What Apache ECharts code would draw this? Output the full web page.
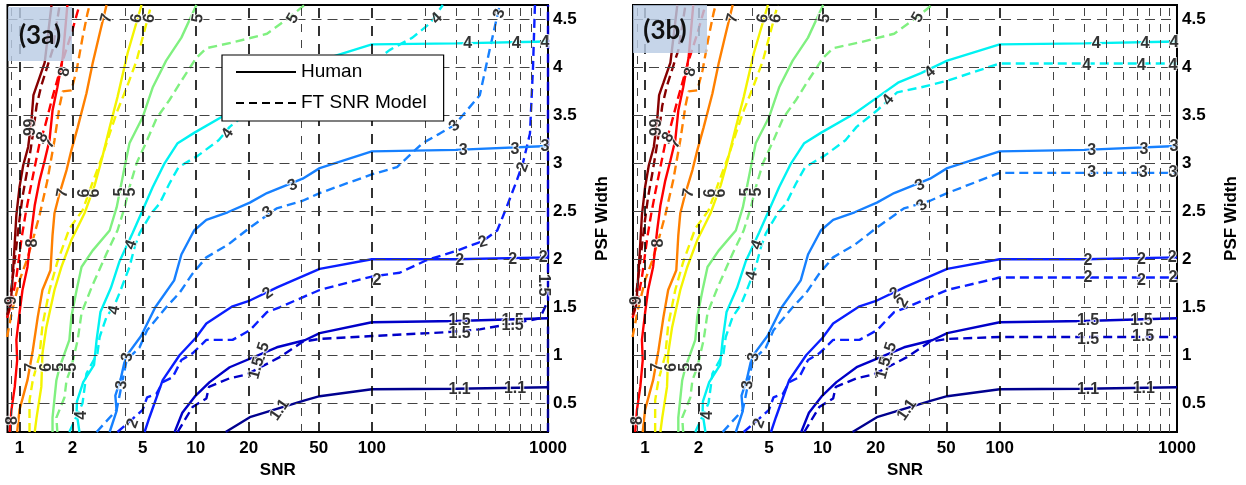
<!DOCTYPE html>
<html><head><meta charset="utf-8">
<script src="https://cdn.jsdelivr.net/npm/echarts@6/dist/echarts.min.js"></script>
<style>html,body{margin:0;padding:0;background:#fff}#c{width:1246px;height:485px}</style>
</head><body><div id="c"></div><script>
// ---------- tick labels / grid positions ----------
const snrTicks = [1, 2, 5, 10, 20, 50, 100, 1000];
const psfTicks = [0.5, 1, 1.5, 2, 2.5, 3, 3.5, 4, 4.5];
const snrMajorGrid = [1, 2, 5, 10, 20, 50, 100];
const snrMinorGrid = [0.9, 4, 40, 200, 300, 400, 500, 600, 700, 800, 900];
const levels = ['1.1', '1.5', '2', '3', '4', '5', '6', '7', '8', '9'];

// ---------- Human contours (same in both panels): [SNR, PSF width] ----------
const human11 = [[14.8,0.2],[20.3,0.354],[41.6,0.53],[50.6,0.573],[100,0.646],[300,0.65],[1000,0.667]];
const human15 = [[7.6,0.2],[8.4,0.40],[10,0.58],[12,0.72],[15.6,0.875],[28.9,1.083],[41.6,1.156],[50.6,1.23],[100,1.344],[300,1.357],[1000,1.385]];
const human2 = [[5.13,0.2],[5.47,0.354],[6.5,0.74],[8.1,1.0],[10,1.18],[11.5,1.33],[16.2,1.51],[20.3,1.57],[29.2,1.71],[50.6,1.90],[100,2.0],[300,2.0],[1000,2.02]];
const human3 = [[3.25,0.2],[3.56,0.42],[3.5,0.58],[3.75,0.75],[4.0,0.98],[4.9,1.2],[5.9,1.5],[7.55,1.78],[8.3,2.05],[9.8,2.3],[11.5,2.41],[15.2,2.49],[20.3,2.59],[25.4,2.69],[40.5,2.84],[50.6,2.95],[100,3.125],[300,3.14],[1000,3.18]];
const human4 = [[2.19,0.2],[2.11,0.4],[2.12,0.52],[2.3,0.72],[2.65,0.9],[2.74,1.16],[2.88,1.45],[3.3,1.7],[3.7,1.98],[4.4,2.28],[5.0,2.51],[5.7,2.75],[6.66,3.0],[7.9,3.21],[9.85,3.32],[15.2,3.52],[20.5,3.69],[26.7,3.84],[36,3.94],[50.6,4.07],[100,4.24],[300,4.25],[1000,4.27]];
const human5 = [[1.54,0.2],[1.54,0.35],[1.62,0.74],[1.69,0.875],[1.92,1.16],[1.97,1.40],[2.11,1.68],[2.25,1.92],[2.60,2.09],[3.25,2.30],[3.56,2.54],[3.95,2.96],[4.21,3.21],[5.0,3.48],[5.7,3.79],[6.8,4.07],[8.3,4.31],[10.1,4.65]];
const human6 = [[1.22,0.2],[1.25,0.35],[1.33,0.67],[1.35,1.02],[1.42,1.29],[1.58,1.68],[1.73,1.92],[1.97,2.20],[2.34,2.48],[2.67,2.77],[2.92,3.03],[3.25,3.375],[3.60,3.69],[4.11,4.15],[4.93,4.65]];
const human7 = [[0.97,0.2],[1.0,0.43],[1.11,0.74],[1.19,1.05],[1.27,1.40],[1.35,1.68],[1.50,1.885],[1.54,2.25],[1.58,2.48],[1.69,2.69],[1.85,2.93],[1.97,3.135],[2.14,3.375],[2.40,3.73],[2.60,4.04],[2.85,4.35],[3.12,4.65]];
const human8 = [[0.88,0.2],[0.90,0.43],[0.94,0.67],[0.97,0.95],[0.96,1.16],[1.0,1.44],[1.04,1.68],[1.11,1.92],[1.17,2.30],[1.22,2.56],[1.30,2.82],[1.39,3.03],[1.48,3.24],[1.54,3.55],[1.64,3.79],[1.76,4.10],[1.87,4.65]];
const human9 = [[0.85,1.42],[0.89,1.52],[0.91,1.75],[0.94,2.17],[0.96,2.46],[1.0,2.75],[1.05,2.98],[1.12,3.17],[1.17,3.45],[1.20,3.71],[1.27,3.84],[1.39,4.05],[1.52,4.65]];

// ---------- FT SNR Model contours ----------
// shared low-SNR parts
const model15Low = [[7.9,0.2],[9.6,0.46],[11.5,0.55],[11.9,0.67],[15.6,0.76],[19.5,0.80],[30,0.98],[40.5,1.14],[50.6,1.17]];
const model2Low = [[3.6,0.2],[4.4,0.34],[5.0,0.43],[5.3,0.56],[6.0,0.60],[6.5,0.72],[7.4,0.77],[8.3,0.95],[9.6,1.02],[11.5,1.16],[16.2,1.16],[20.3,1.26],[25.4,1.45],[30,1.5],[50.6,1.68]];
const model3Low = [[2.74,0.2],[3.56,0.43],[3.8,0.69],[4.06,0.95],[4.8,1.08],[5.3,1.26],[6.8,1.5],[8.1,1.65],[9.6,1.85],[11.5,2.02],[15.2,2.15],[20.3,2.33],[28.8,2.53],[40.5,2.61],[50.6,2.69]];
const model4Low = [[1.92,0.2],[2.28,0.5],[2.4,0.81],[2.77,1.02],[2.85,1.19],[3.12,1.40],[3.46,1.52],[3.7,1.65],[4.21,1.92],[4.5,2.125],[4.8,2.27],[5.6,2.48],[6.24,2.58],[7.1,2.79],[8.0,2.96],[10.3,3.08],[13.5,3.24],[15.6,3.38],[20.3,3.55],[26.4,3.74],[35.6,3.79],[50.5,3.86]];
const model5 = [[1.64,0.2],[1.62,0.35],[1.80,0.56],[1.85,0.74],[1.97,0.875],[2.14,1.16],[2.25,1.44],[2.57,1.71],[3.12,2.06],[3.6,2.30],[3.95,2.54],[4.21,2.75],[4.62,3.0],[5.3,3.24],[6.0,3.47],[7.1,3.66],[8.3,3.86],[10.1,4.10],[11.5,4.20],[16.2,4.26],[25.4,4.35],[34,4.52],[41.5,4.65]];
const model6 = [[1.14,0.2],[1.14,0.53],[1.19,0.74],[1.30,1.0],[1.35,1.31],[1.48,1.68],[1.64,1.97],[1.92,2.32],[2.28,2.51],[2.60,2.80],[2.96,3.08],[3.25,3.31],[3.60,3.55],[4.06,3.79],[4.62,4.07],[5.0,4.31],[5.6,4.65]];
const model7 = [[0.85,1.19],[0.91,1.47],[1.0,1.78],[1.10,1.99],[1.19,2.20],[1.30,2.46],[1.44,2.82],[1.58,3.24],[1.69,3.6],[1.76,3.75],[1.97,3.76],[2.11,3.97],[2.28,4.31],[2.43,4.56],[2.5,4.65]];
const model8 = [[0.85,1.39],[0.90,1.54],[0.96,1.81],[1.03,2.23],[1.08,2.46],[1.14,2.69],[1.22,2.96],[1.30,3.21],[1.39,3.375],[1.54,3.69],[1.76,4.07],[1.97,4.35],[2.19,4.65]];
const model9 = [[0.85,1.52],[0.89,1.625],[0.94,1.99],[0.99,2.35],[1.04,2.65],[1.10,2.90],[1.155,3.135],[1.20,3.34],[1.25,3.60],[1.33,3.81],[1.54,4.18],[1.69,4.65]];
// panel (3a) high-SNR parts
const model11A = [[1000,0.2],[1000,1.3]];
const model15A = [[100,1.20],[266,1.24],[410,1.27],[630,1.33],[900,1.385],[1000,1.57],[1000,4.65]];
const model2A = [[100,1.82],[144,1.86],[204,1.99],[304,2.09],[427,2.19],[515,2.30],[570,2.50],[665,2.82],[720,3.0],[790,3.31],[822,4.0],[843,4.65]];
const model3A = [[100,2.885],[139,2.96],[194,3.21],[243,3.31],[295,3.40],[410,3.71],[466,4.18],[532,4.65]];
const model4A = [[100,4.04],[126,4.18],[170,4.31],[214,4.46],[253,4.65]];
// panel (3b) high-SNR parts
const model15B = [[100,1.19],[1000,1.19]];
const model2B = [[100,1.81],[1000,1.81]];
const model3B = [[100,2.90],[1000,2.90]];
const model4B = [[100,4.04],[1000,4.04]];

// ---------- contour labels: [SNR, PSF, text] ----------
const humanLabels = [[30,0.43,'1.1'],[315,0.645,'1.1'],[650,0.656,'1.1'],[23.7,1.02,'1.5'],[315,1.36,'1.5'],[630,1.365,'1.5'],
  [25.7,1.645,'2'],[315,1.99,'2'],[630,2.0,'2'],[940,2.02,'2'],[3.8,0.69,'3'],[35.5,2.77,'3'],[330,3.135,'3'],[650,3.146,'3'],[960,3.17,'3'],
  [2.25,0.375,'4'],[40.5,3.95,'4'],[350,4.25,'4'],[660,4.25,'4'],[960,4.26,'4'],[10.3,4.51,'5'],[3.75,2.70,'5'],[1.69,0.875,'5'],
  [4.62,4.51,'6'],[2.67,2.69,'6'],[1.42,0.875,'6'],[3.12,4.51,'7'],[1.76,2.69,'7'],[1.17,0.875,'7'],[1.8,3.95,'8'],[1.19,2.17,'8'],[0.91,0.32,'8'],
  [1.155,3.33,'9'],[0.9,1.57,'9']];
const humanLabelRot = [55,0,0,72,0,0,35,0,0,0,85,25,0,0,0,90,40,0,0,0,80,90,90,80,90,90,75,80,90,80,90,90,90,90];
const modelLabelsA = [[22.2,0.865,'1.5'],[315,1.23,'1.5'],[630,1.31,'1.5'],[940,1.73,'1.5'],[4.4,0.29,'2'],[107,1.78,'2'],[427,2.18,'2'],[720,2.96,'2'],
  [4.1,0.98,'3'],[25.7,2.49,'3'],[295,3.39,'3'],[530,4.56,'3'],[3.46,1.47,'4'],[4.3,2.15,'4'],[15.2,3.31,'4'],[234,4.51,'4'],
  [4.27,2.70,'5'],[1.97,0.875,'5'],[35.6,4.51,'5'],[5.47,4.51,'6'],[2.34,2.69,'6'],[1.48,3.21,'7'],[1.35,3.27,'8'],[1.155,3.42,'9']];
const modelLabelRotA = [75,0,0,-90,70,0,15,70,80,35,40,75,80,70,55,45,90,90,60,80,90,60,60,90];
const modelLabelsB = [[22.2,0.865,'1.5'],[315,1.16,'1.5'],[644,1.19,'1.5'],[4.4,0.29,'2'],[28.5,1.55,'2'],[315,1.81,'2'],[630,1.78,'2'],[950,1.81,'2'],
  [4.1,0.98,'3'],[36.5,2.56,'3'],[330,2.90,'3'],[644,2.90,'3'],[950,2.90,'3'],[4.0,1.83,'4'],[4.28,2.15,'4'],[23.5,3.66,'4'],[310,4.02,'4'],[630,4.02,'4'],[950,4.02,'4'],
  [4.27,2.70,'5'],[1.97,0.875,'5'],[34.6,4.52,'5'],[5.47,4.51,'6'],[2.34,2.69,'6'],[1.48,3.21,'7'],[1.35,3.27,'8'],[1.155,3.42,'9']];
const modelLabelRotB = [75,0,0,70,60,0,0,0,80,40,0,0,0,80,70,50,0,0,0,90,90,60,80,90,60,60,90];

// ---------- assemble ----------
const humanLines = {'1.1':human11,'1.5':human15,'2':human2,'3':human3,'4':human4,'5':human5,'6':human6,'7':human7,'8':human8,'9':human9};
const modelLinesA = {'1.1':model11A,'1.5':model15Low.concat(model15A),'2':model2Low.concat(model2A),'3':model3Low.concat(model3A),'4':model4Low.concat(model4A),'5':model5,'6':model6,'7':model7,'8':model8,'9':model9};
const modelLinesB = {'1.5':model15Low.concat(model15B),'2':model2Low.concat(model2B),'3':model3Low.concat(model3B),'4':model4Low.concat(model4B),'5':model5,'6':model6,'7':model7,'8':model8,'9':model9};

const levelColor = {'1.1':'#00008f','1.5':'#0000c8','2':'#0a1eff','3':'#1680ff','4':'#00f2f2','5':'#80f080','6':'#f4f400','7':'#ff8000','8':'#ff0000','9':'#870000'};
const FONT = '"Liberation Sans", Arial, sans-serif';
const DASH = [9, 5];

function gridSeries(g) {
  const major = {color:'#000', width:1.6, type:[10,8]};
  const minor = {color:'#444', width:1, type:[8,8]};
  const hor = {color:'#444', width:1, type:[10,6]};
  const data = [];
  snrMajorGrid.forEach(v => data.push({xAxis: v, lineStyle: major}));
  snrMinorGrid.forEach(v => data.push({xAxis: v, lineStyle: minor}));
  psfTicks.forEach(v => data.push({yAxis: v, lineStyle: hor}));
  return {type:'line', xAxisIndex:g, yAxisIndex:g, data:[], symbol:'none', silent:true, z:1,
    markLine:{silent:true, symbol:['none','none'], label:{show:false}, animation:false, data}};
}
function contourSeries(g, lines, dashed) {
  return levels.filter(l => lines[l]).map(l => ({
    type:'line', xAxisIndex:g, yAxisIndex:g, data:lines[l], symbol:'none', silent:true, z:3,
    lineStyle:{color:levelColor[l], width:2.4, type: dashed ? DASH : 'solid'}, animation:false
  }));
}
function labelSeries(g, list, rots) {
  return {type:'scatter', xAxisIndex:g, yAxisIndex:g, symbol:'circle', symbolSize:1, silent:true, z:6,
    itemStyle:{color:'rgba(0,0,0,0)'}, animation:false,
    label:{show:true, position:'inside', color:'#000', fontSize:16, fontWeight:'bold', fontFamily:FONT, textBorderColor:'#fff', textBorderWidth:2},
    data: list.map((d,i) => ({value:[d[0], d[1]], label:{formatter:d[2], rotate:rots[i]}}))};
}
function xAxis(g) {
  return {type:'log', logBase:10, gridIndex:g, min:0.855, max:1000,
    axisLine:{show:false}, axisTick:{show:false}, splitLine:{show:false}, minorSplitLine:{show:false},
    axisLabel:{customValues:snrTicks, formatter:v => String(Math.round(v)), margin:8, fontSize:17, fontWeight:'bold', fontFamily:FONT, color:'#000'},
    name:'SNR', nameLocation:'middle', nameGap:27, nameTextStyle:{fontSize:17, fontWeight:'bold', fontFamily:FONT, color:'#000'}};
}
function yAxis(g) {
  return {type:'value', gridIndex:g, position:'right', min:0.2, max:4.65,
    axisLine:{show:false}, axisTick:{show:false}, splitLine:{show:false},
    axisLabel:{customValues:psfTicks, formatter:v => String(v), margin:5, fontSize:17, fontWeight:'bold', fontFamily:FONT, color:'#000'},
    name:'PSF Width', nameLocation:'middle', nameRotate:90, nameGap:46, nameTextStyle:{fontSize:17, fontWeight:'bold', fontFamily:FONT, color:'#000'}};
}

const series = [gridSeries(0), gridSeries(1)]
  .concat(contourSeries(0, modelLinesA, true), contourSeries(0, humanLines, false))
  .concat(contourSeries(1, modelLinesB, true), contourSeries(1, humanLines, false))
  .concat([labelSeries(0, humanLabels, humanLabelRot), labelSeries(0, modelLabelsA, modelLabelRotA),
           labelSeries(1, humanLabels, humanLabelRot), labelSeries(1, modelLabelsB, modelLabelRotB)])
  .concat([
    {name:'Human', type:'line', xAxisIndex:0, yAxisIndex:0, data:[], symbol:'none', lineStyle:{color:'#000', width:2.6, type:'solid'}, itemStyle:{color:'rgba(0,0,0,0)', borderWidth:0}},
    {name:'FT SNR Model', type:'line', xAxisIndex:0, yAxisIndex:0, data:[], symbol:'none', lineStyle:{color:'#000', width:2.6, type:[8,5]}, itemStyle:{color:'rgba(0,0,0,0)', borderWidth:0}}
  ]);

const chart = echarts.init(document.getElementById('c'), null, {renderer:'canvas'});
chart.setOption({
  animation:false,
  backgroundColor:'#fff',
  grid:[
    {left:7.5, top:5, width:540.5, height:427, show:true, borderColor:'#000', borderWidth:2, backgroundColor:'#fff', containLabel:false, outerBoundsMode:'none'},
    {left:633, top:5, width:544, height:427, show:true, borderColor:'#000', borderWidth:2, backgroundColor:'#fff', containLabel:false, outerBoundsMode:'none'}
  ],
  xAxis:[xAxis(0), xAxis(1)],
  yAxis:[yAxis(0), yAxis(1)],
  legend:{data:['Human','FT SNR Model'], left:222, top:55, orient:'vertical', selectedMode:false,
    backgroundColor:'#fff', borderColor:'#000', borderWidth:1.2, padding:[7,17,8,13],
    itemWidth:60, itemHeight:14, itemGap:11, z:10,
    itemStyle:{color:'rgba(0,0,0,0)', borderWidth:0},
    textStyle:{fontSize:19, fontFamily:FONT, color:'#000', lineHeight:20}},
  graphic:[
    {type:'rect', z:100, silent:true, shape:{x:8, y:7, width:64, height:54}, style:{fill:'rgba(186,204,228,0.82)'}},
    {type:'text', z:101, silent:true, style:{text:'(3a)', x:40, y:36, align:'center', verticalAlign:'middle', textAlign:'center', textVerticalAlign:'middle', font:'bold 26px Lato, "Open Sans", sans-serif', fill:'#111'}},
    {type:'rect', z:100, silent:true, shape:{x:633, y:5, width:74, height:48}, style:{fill:'rgba(186,204,228,0.82)'}},
    {type:'text', z:101, silent:true, style:{text:'(3b)', x:665, y:31, align:'center', verticalAlign:'middle', textAlign:'center', textVerticalAlign:'middle', font:'bold 26px Lato, "Open Sans", sans-serif', fill:'#111'}}
  ],
  series
});
</script></body></html>
